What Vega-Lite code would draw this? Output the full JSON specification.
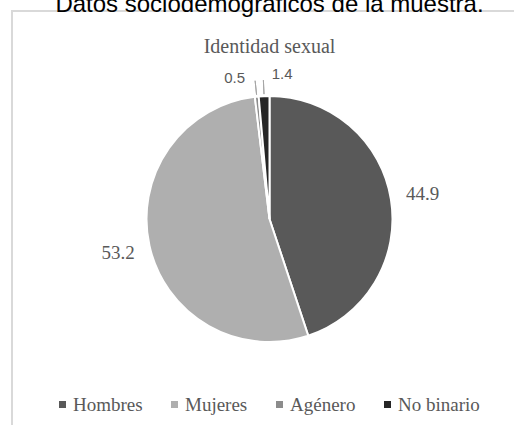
{
  "$schema": "https://vega.github.io/schema/vega-lite/v6.json",
  "width": 515,
  "height": 416,
  "autosize": {"type": "none"},
  "padding": {"left": 12, "top": 11, "right": 0, "bottom": 0},
  "background": "white",
  "title": {
    "text": "Datos sociodemográficos de la muestra.",
    "subtitle": "Identidad sexual",
    "anchor": "middle",
    "frame": "group",
    "offset": -47,
    "font": "Liberation Sans",
    "fontSize": 24,
    "fontWeight": "normal",
    "color": "#000000",
    "subtitleFont": "Liberation Serif",
    "subtitleFontSize": 20,
    "subtitleColor": "#595959",
    "subtitlePadding": 20
  },
  "config": {"view": {"stroke": null}},
  "data": {
    "values": [
      {"categoria": "Hombres", "valor": 44.9, "orden": 1},
      {"categoria": "Mujeres", "valor": 53.2, "orden": 2},
      {"categoria": "Agénero", "valor": 0.5, "orden": 3},
      {"categoria": "No binario", "valor": 1.4, "orden": 4}
    ]
  },
  "layer": [
    {
      "mark": {"type": "rect", "fillOpacity": 0, "stroke": "#d9d9d9", "strokeWidth": 2},
      "encoding": {}
    },
    {
      "mark": {"type": "arc", "radius": 123, "stroke": "white", "strokeWidth": 2},
      "encoding": {
        "theta": {"field": "valor", "type": "quantitative", "stack": true},
        "order": {"field": "orden", "type": "quantitative"},
        "color": {
          "field": "categoria",
          "type": "nominal",
          "scale": {
            "domain": ["Hombres", "Mujeres", "Agénero", "No binario"],
            "range": ["#595959", "#afafaf", "#8c8c8c", "#262626"]
          },
          "legend": {
            "title": null,
            "orient": "none",
            "legendX": 41,
            "legendY": 384,
            "direction": "horizontal",
            "gridAlign": "none",
            "symbolType": "square",
            "symbolSize": 49,
            "symbolStrokeWidth": 0,
            "labelFont": "Liberation Serif",
            "labelFontSize": 19,
            "labelColor": "#595959",
            "labelOffset": 1,
            "labelLimit": 200,
            "columnPadding": 22,
            "padding": 0
          }
        }
      }
    },
    {
      "mark": {"type": "text", "radius": 155, "font": "Liberation Serif", "fontSize": 19, "fill": "#595959"},
      "encoding": {
        "theta": {"field": "valor", "type": "quantitative", "stack": true},
        "order": {"field": "orden", "type": "quantitative"},
        "detail": {"field": "categoria", "type": "nominal"},
        "text": {"field": "valor", "type": "quantitative", "format": ".1f"},
        "opacity": {"condition": {"test": "datum.valor > 10", "value": 1}, "value": 0}
      }
    },
    {
      "mark": {"type": "text", "radius": 144, "dx": -20, "dy": 2, "font": "Liberation Sans", "fontSize": 15, "fill": "#595959"},
      "encoding": {
        "theta": {"field": "valor", "type": "quantitative", "stack": true},
        "order": {"field": "orden", "type": "quantitative"},
        "detail": {"field": "categoria", "type": "nominal"},
        "text": {"field": "valor", "type": "quantitative", "format": ".1f"},
        "opacity": {"condition": {"test": "datum.categoria === 'Agénero'", "value": 1}, "value": 0}
      }
    },
    {
      "mark": {"type": "text", "radius": 144, "dx": 19, "dy": -1, "font": "Liberation Sans", "fontSize": 15, "fill": "#595959"},
      "encoding": {
        "theta": {"field": "valor", "type": "quantitative", "stack": true},
        "order": {"field": "orden", "type": "quantitative"},
        "detail": {"field": "categoria", "type": "nominal"},
        "text": {"field": "valor", "type": "quantitative", "format": ".1f"},
        "opacity": {"condition": {"test": "datum.categoria === 'No binario'", "value": 1}, "value": 0}
      }
    },
    {
      "mark": {"type": "arc", "radius": 139, "radius2": 125, "padAngle": 0.5, "stroke": "#a6a6a6", "strokeWidth": 1, "fillOpacity": 0},
      "encoding": {
        "theta": {"field": "valor", "type": "quantitative", "stack": true},
        "order": {"field": "orden", "type": "quantitative"},
        "detail": {"field": "categoria", "type": "nominal"},
        "strokeOpacity": {"condition": {"test": "datum.valor < 10", "value": 1}, "value": 0}
      }
    }
  ]
}
